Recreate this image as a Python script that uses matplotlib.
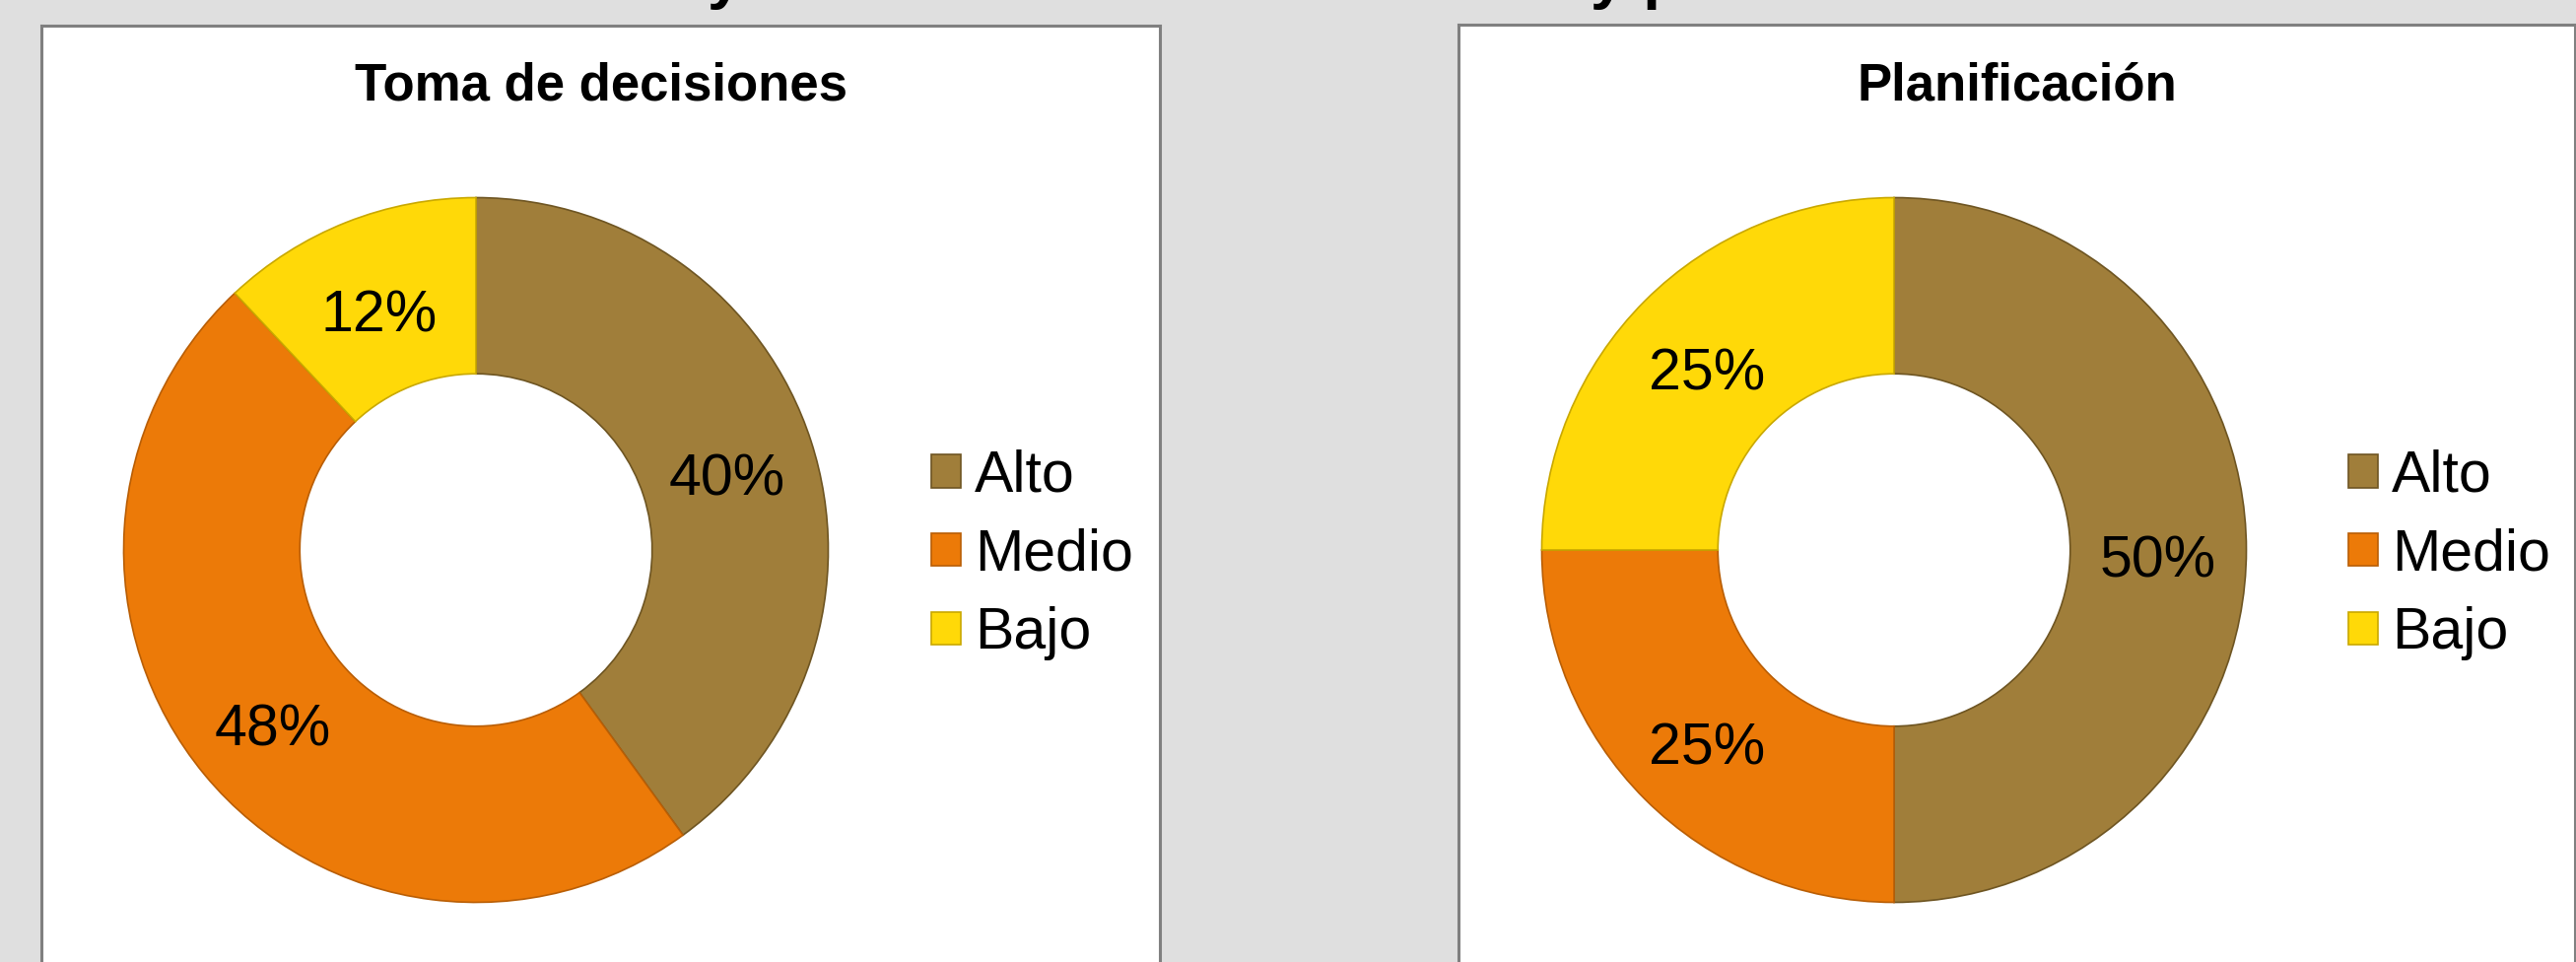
import matplotlib
matplotlib.use('Agg')
import matplotlib.pyplot as plt
from matplotlib.transforms import ScaledTranslation

plt.rcParams['font.family'] = ['Liberation Sans', 'DejaVu Sans']

# data
categories = ['Alto', 'Medio', 'Bajo']
toma_values = [40, 48, 12]
plan_values = [50, 25, 25]
titles = ['Toma de decisiones', 'Planificación']

colors = ['#A07E3A', '#EC7A08', '#FFD908']
edge_colors = ['#6E5522', '#B95E05', '#C9A800']

W, H = 2614, 976
DPI = 100
fig = plt.figure(figsize=(W / DPI, H / DPI), dpi=DPI, facecolor='#DFDFDF')


def px_rect(x0, y0, x1, y1):
    # pixel box (top-left origin) -> figure fraction rect
    return [x0 / W, 1 - y1 / H, (x1 - x0) / W, (y1 - y0) / H]


# main title is cut off at the top, only descenders show
fig.text(735 / W, 1 + 3 / H, 'y', fontsize=46, fontweight='bold', ha='center', va='baseline')
fig.text(1660 / W, 1 + 3 / H, 'y p', fontsize=46, fontweight='bold', ha='center', va='baseline')

panels = [
    dict(box=(42, 26, 1177, 1020), cx=483, cy=558, title=titles[0], values=toma_values, leg_x=945),
    dict(box=(1480, 25, 2613, 1020), cx=1922, cy=558, title=titles[1], values=plan_values, leg_x=2383),
]

R = 357.5
for p in panels:
    x0, y0, x1, y1 = p['box']
    bg = fig.add_axes(px_rect(x0, y0, x1, y1))
    bg.set_facecolor('white')
    bg.set_xticks([])
    bg.set_yticks([])
    for s in bg.spines.values():
        s.set_color('#808080')
        s.set_linewidth(2.2)

    cx_title = (x0 + x1) / 2
    fig.text(cx_title / W, 1 - 88 / H, p['title'], fontsize=38, fontweight='bold',
             ha='center', va='center')

    ax = fig.add_axes(px_rect(p['cx'] - R, p['cy'] - R, p['cx'] + R, p['cy'] + R))
    ax.set_facecolor('none')
    wedges, texts, autotexts = ax.pie(
        p['values'], colors=colors, startangle=90, counterclock=False,
        radius=1, autopct='%d%%', pctdistance=0.75,
        wedgeprops=dict(width=0.5, linewidth=1.2),
        textprops=dict(fontsize=42.5, color='black'))
    for w, ec in zip(wedges, edge_colors):
        w.set_edgecolor(ec)
    # nudge labels down a bit, like the original
    for t in autotexts:
        t.set_transform(ax.transData + ScaledTranslation(0, -12 / DPI, fig.dpi_scale_trans))
    ax.set_xlim(-1, 1)
    ax.set_ylim(-1, 1)
    ax.set_aspect('equal')
    ax.axis('off')

    leg = ax.legend(wedges, categories, loc='center left',
                    bbox_to_anchor=(p['leg_x'] / W, 1 - (p['cy'] + 5) / H),
                    bbox_transform=fig.transFigure, frameon=False,
                    fontsize=42.5, handlelength=0.5, handleheight=0.5,
                    handletextpad=0.25, labelspacing=0.42, borderpad=0, borderaxespad=0)

fig.savefig('out.png', dpi=DPI, facecolor=fig.get_facecolor())
